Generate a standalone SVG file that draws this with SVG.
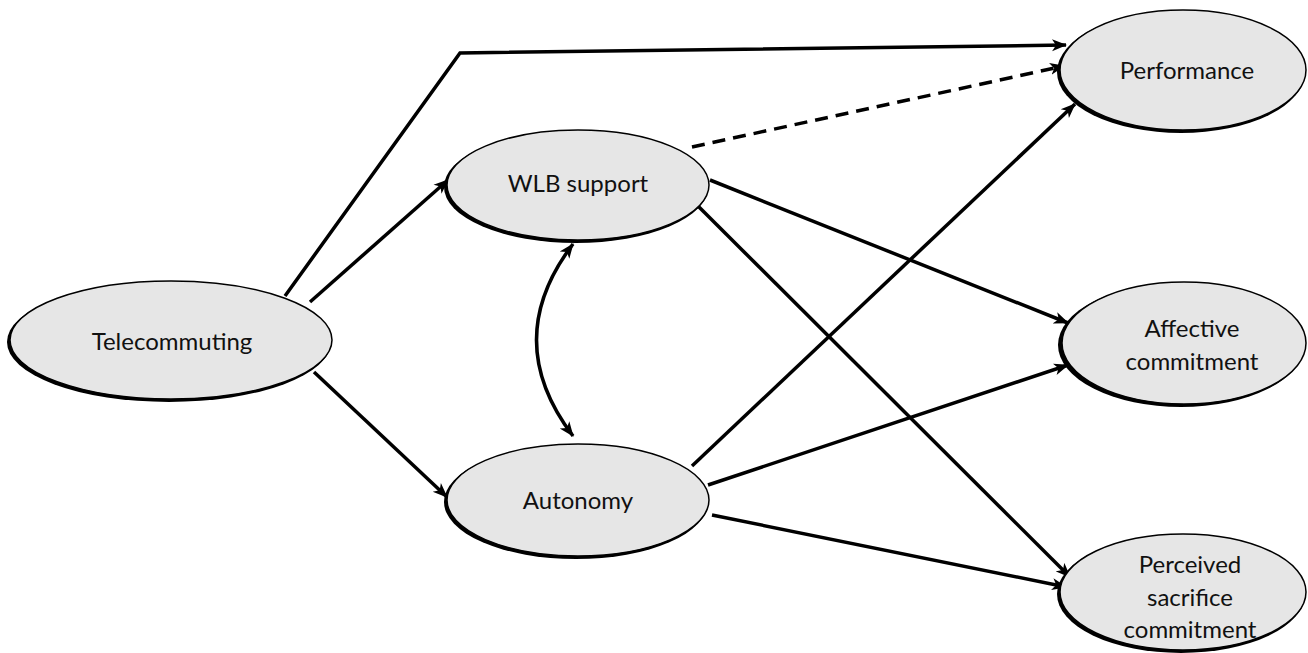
<svg xmlns="http://www.w3.org/2000/svg" width="1308" height="653" viewBox="0 0 1308 653">
<style>
.sh{fill:#000}
.nd{fill:#e6e6e6;stroke:#000;stroke-width:1.5}
.lb{font-family:"Lato","Liberation Sans",sans-serif;font-size:24px;fill:#111;text-anchor:middle}
.cn{fill:none;stroke:#000;stroke-width:3.5}
.ds{stroke-dasharray:13 8}
</style>
<defs>
<marker id="ah" viewBox="0 0 16 14" refX="14" refY="7" markerWidth="16" markerHeight="14" markerUnits="userSpaceOnUse" orient="auto-start-reverse">
<path d="M0,1 L15,7 L0,13 L4,7 z" fill="#000"/>
</marker>
</defs>
<rect width="1308" height="653" fill="#fff"/>
<g id="connectors">
<polyline class="cn" points="285,296 460,53 1066,45" marker-end="url(#ah)"/>
<line class="cn" x1="310" y1="302" x2="448" y2="180" marker-end="url(#ah)"/>
<line class="cn" x1="314" y1="372" x2="447" y2="497" marker-end="url(#ah)"/>
<line class="cn ds" x1="692" y1="147" x2="1064" y2="66" marker-end="url(#ah)"/>
<line class="cn" x1="710" y1="180" x2="1068" y2="323" marker-end="url(#ah)"/>
<line class="cn" x1="697" y1="205" x2="1070" y2="577" marker-end="url(#ah)"/>
<line class="cn" x1="692" y1="466" x2="1075" y2="104" marker-end="url(#ah)"/>
<line class="cn" x1="708" y1="485" x2="1068" y2="365" marker-end="url(#ah)"/>
<line class="cn" x1="712" y1="515" x2="1066" y2="587" marker-end="url(#ah)"/>
<path class="cn" d="M573,244 Q500,340 573,436" marker-start="url(#ah)" marker-end="url(#ah)"/>
</g>
<g id="telecommuting">
<ellipse class="sh" cx="169" cy="342" rx="162" ry="60"/>
<ellipse class="nd" cx="171" cy="340" rx="161" ry="59"/>
<text class="lb" x="172" y="350">Telecommuting</text>
</g>
<g id="wlb">
<ellipse class="sh" cx="576" cy="187" rx="132" ry="56"/>
<ellipse class="nd" cx="578" cy="185" rx="131" ry="55"/>
<text class="lb" x="578" y="192">WLB support</text>
</g>
<g id="autonomy">
<ellipse class="sh" cx="576" cy="502" rx="132" ry="57"/>
<ellipse class="nd" cx="578" cy="500" rx="131" ry="56"/>
<text class="lb" x="578" y="509">Autonomy</text>
</g>
<g id="performance">
<ellipse class="sh" cx="1181" cy="72" rx="124" ry="61"/>
<ellipse class="nd" cx="1183" cy="70" rx="123" ry="60"/>
<text class="lb" x="1187" y="79">Performance</text>
</g>
<g id="affective">
<ellipse class="sh" cx="1181" cy="345" rx="123" ry="62"/>
<ellipse class="nd" cx="1184" cy="343" rx="122" ry="61"/>
<text class="lb" x="1192" y="337">Affective</text>
<text class="lb" x="1192" y="370">commitment</text>
</g>
<g id="perceived">
<ellipse class="sh" cx="1181" cy="594" rx="124" ry="59"/>
<ellipse class="nd" cx="1183" cy="592" rx="123" ry="58"/>
<text class="lb" x="1190" y="573">Perceived</text>
<text class="lb" x="1190" y="606">sacrifice</text>
<text class="lb" x="1190" y="638">commitment</text>
</g>
</svg>
